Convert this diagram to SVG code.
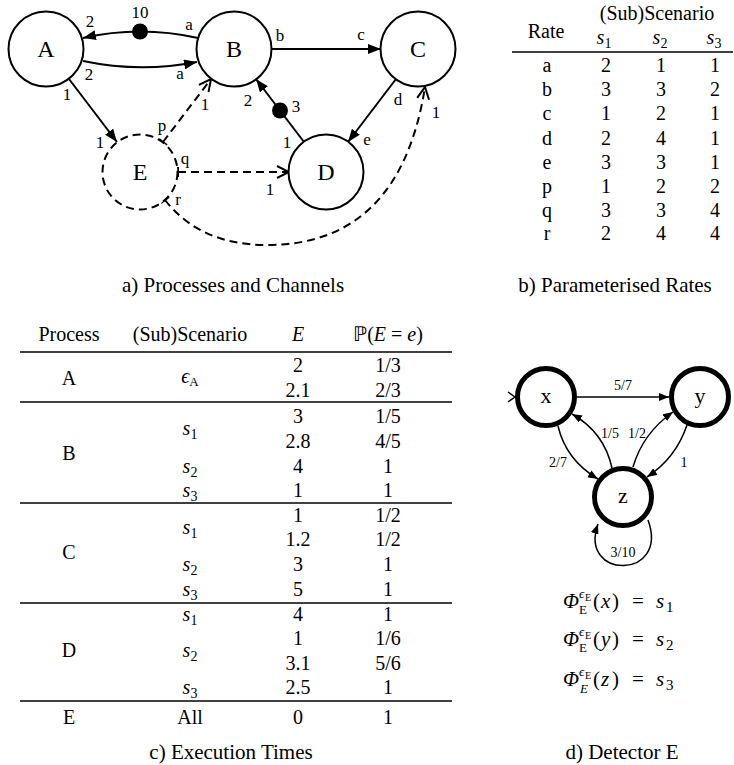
<svg xmlns="http://www.w3.org/2000/svg" width="734" height="765" viewBox="0 0 734 765">
<style>
text{font-family:"Liberation Serif","DejaVu Serif",serif;fill:#000}
.nl{font-size:24px;text-anchor:middle}
.el{font-size:17px;text-anchor:middle}
.t{font-size:20px;text-anchor:middle}
.cap{font-size:21px;text-anchor:middle}
.i{font-style:italic}
.nc{fill:#fff;stroke:#000;stroke-width:2}
.e{fill:none;stroke:#000;stroke-width:2}
.d{stroke-dasharray:8 5}
.rule{stroke:#000;stroke-width:1.3}
.dn{fill:#fff;stroke:#000;stroke-width:5}
.de{fill:none;stroke:#000;stroke-width:1.5}
.dl{font-size:14px;text-anchor:middle}
.dnl{font-size:22px;text-anchor:middle}
.m{font-size:21px}
</style>
<defs>
<marker id="af" viewBox="0 0 13 10" markerWidth="13" markerHeight="10" refX="13" refY="5" orient="auto" markerUnits="userSpaceOnUse"><path d="M0,0 L13,5 L0,10 z"/></marker>
<marker id="ao" viewBox="-2 -2 16 16" markerWidth="16" markerHeight="16" refX="12" refY="6" orient="auto" markerUnits="userSpaceOnUse"><path d="M0,0 L12,6 L0,12" fill="none" stroke="#000" stroke-width="2"/></marker>
<marker id="tee" viewBox="-2 -6 4 12" markerWidth="4" markerHeight="12" refX="0" refY="0" orient="auto" markerUnits="userSpaceOnUse"><path d="M0,-5 L0,5" stroke="#000" stroke-width="2"/></marker>
<marker id="as" viewBox="0 0 10 8" markerWidth="10" markerHeight="8" refX="10" refY="4" orient="auto" markerUnits="userSpaceOnUse"><path d="M0,0 L10,4 L0,8 z"/></marker>
</defs>

<!-- a) Processes and Channels -->
<g id="connectors">
<path class="e" d="M198,38 Q140,25 83,38" marker-end="url(#af)"/>
<circle cx="140" cy="31.5" r="8"/>
<path class="e" d="M83,61 Q140,73 197,62" marker-end="url(#af)"/>
<path class="e" d="M69,79 L117,142" marker-end="url(#af)"/>
<path class="e d" d="M163,142 L211,79" marker-start="url(#tee)" marker-end="url(#ao)"/>
<path class="e" d="M271,49 L381,49" marker-end="url(#af)"/>
<path class="e" d="M396,79 L348,142" marker-end="url(#af)"/>
<path class="e" d="M304,142 L256,79" marker-end="url(#af)"/>
<circle cx="280" cy="110.5" r="8"/>
<path class="e d" d="M178,172 L289,172" marker-start="url(#tee)" marker-end="url(#ao)"/>
<path class="e d" d="M165,200 Q200,245 267,245 Q400,245 425,87" marker-start="url(#tee)" marker-end="url(#ao)"/>
<text class="el" x="140" y="18">10</text>
<text class="el" x="90" y="27">2</text>
<text class="el" x="189" y="30">a</text>
<text class="el" x="89" y="80">2</text>
<text class="el" x="180" y="79">a</text>
<text class="el" x="67" y="100">1</text>
<text class="el" x="100" y="148">1</text>
<text class="el" x="162" y="131">p</text>
<text class="el" x="205" y="110">1</text>
<text class="el" x="280" y="41">b</text>
<text class="el" x="361" y="40">c</text>
<text class="el" x="398" y="105">d</text>
<text class="el" x="367" y="145">e</text>
<text class="el" x="296" y="112">3</text>
<text class="el" x="248" y="106">2</text>
<text class="el" x="287" y="148">1</text>
<text class="el" x="185" y="164">q</text>
<text class="el" x="270" y="195">1</text>
<text class="el" x="178" y="205">r</text>
<text class="el" x="436" y="118">1</text>
</g>
<g id="node-A"><circle class="nc" cx="46" cy="49" r="37.5"/><text class="nl" x="46" y="57">A</text></g>
<g id="node-B"><circle class="nc" cx="234" cy="49" r="37.5"/><text class="nl" x="234" y="57">B</text></g>
<g id="node-C"><circle class="nc" cx="418" cy="49" r="37.5"/><text class="nl" x="418" y="57">C</text></g>
<g id="node-D"><circle class="nc" cx="326" cy="172" r="37.5"/><text class="nl" x="326" y="180">D</text></g>
<g id="node-E"><circle class="nc d" cx="140" cy="172" r="37.5"/><text class="nl" x="140" y="180">E</text></g>
<text class="cap" x="233" y="292">a) Processes and Channels</text>

<!-- b) Parameterised Rates -->
<g id="table-rates">
<text class="t" x="657" y="20">(Sub)Scenario</text>
<text class="t" x="546" y="38">Rate</text>
<text class="t" x="604" y="44"><tspan class="i">s</tspan><tspan font-size="14" dy="4">1</tspan></text>
<text class="t" x="660" y="44"><tspan class="i">s</tspan><tspan font-size="14" dy="4">2</tspan></text>
<text class="t" x="714" y="44"><tspan class="i">s</tspan><tspan font-size="14" dy="4">3</tspan></text>
<line class="rule" x1="512" y1="52" x2="733" y2="52" stroke-width="1.6"/>
<text class="t" x="547" y="72">a</text><text class="t" x="606" y="72">2</text><text class="t" x="661" y="72">1</text><text class="t" x="715" y="72">1</text>
<text class="t" x="547" y="96">b</text><text class="t" x="606" y="96">3</text><text class="t" x="661" y="96">3</text><text class="t" x="715" y="96">2</text>
<text class="t" x="547" y="120">c</text><text class="t" x="606" y="120">1</text><text class="t" x="661" y="120">2</text><text class="t" x="715" y="120">1</text>
<text class="t" x="547" y="144.5">d</text><text class="t" x="606" y="144.5">2</text><text class="t" x="661" y="144.5">4</text><text class="t" x="715" y="144.5">1</text>
<text class="t" x="547" y="168.5">e</text><text class="t" x="606" y="168.5">3</text><text class="t" x="661" y="168.5">3</text><text class="t" x="715" y="168.5">1</text>
<text class="t" x="547" y="193">p</text><text class="t" x="606" y="193">1</text><text class="t" x="661" y="193">2</text><text class="t" x="715" y="193">2</text>
<text class="t" x="547" y="217">q</text><text class="t" x="606" y="217">3</text><text class="t" x="661" y="217">3</text><text class="t" x="715" y="217">4</text>
<text class="t" x="547" y="240">r</text><text class="t" x="606" y="240">2</text><text class="t" x="661" y="240">4</text><text class="t" x="715" y="240">4</text>
</g>
<text class="cap" x="615" y="292">b) Parameterised Rates</text>

<!-- c) Execution Times -->
<g id="table-times">
<text class="t" x="69" y="341">Process</text>
<text class="t" x="190" y="341">(Sub)Scenario</text>
<text class="t i" x="298" y="341">E</text>
<text class="t" x="388" y="341"><tspan font-family="DejaVu Sans, sans-serif">ℙ</tspan>(<tspan class="i">E</tspan> = <tspan class="i">e</tspan>)</text>
<line class="rule" x1="20" y1="352" x2="452" y2="352" stroke-width="1.8"/>
<line class="rule" x1="20" y1="402" x2="452" y2="402"/>
<line class="rule" x1="20" y1="503" x2="452" y2="503"/>
<line class="rule" x1="20" y1="603" x2="452" y2="603"/>
<line class="rule" x1="20" y1="701" x2="452" y2="701"/>
<text class="t" x="69" y="385">A</text>
<text class="t" x="69" y="460">B</text>
<text class="t" x="69" y="559">C</text>
<text class="t" x="69" y="657">D</text>
<text class="t" x="69" y="723.5">E</text>
<text class="t" x="190" y="383"><tspan class="i">ϵ</tspan><tspan font-size="13" dy="3">A</tspan></text>
<text class="t" x="190" y="435"><tspan class="i">s</tspan><tspan font-size="14" dy="4">1</tspan></text>
<text class="t" x="190" y="472.5"><tspan class="i">s</tspan><tspan font-size="14" dy="4">2</tspan></text>
<text class="t" x="190" y="496.5"><tspan class="i">s</tspan><tspan font-size="14" dy="4">3</tspan></text>
<text class="t" x="190" y="534"><tspan class="i">s</tspan><tspan font-size="14" dy="4">1</tspan></text>
<text class="t" x="190" y="571"><tspan class="i">s</tspan><tspan font-size="14" dy="4">2</tspan></text>
<text class="t" x="190" y="595.5"><tspan class="i">s</tspan><tspan font-size="14" dy="4">3</tspan></text>
<text class="t" x="190" y="620.5"><tspan class="i">s</tspan><tspan font-size="14" dy="4">1</tspan></text>
<text class="t" x="190" y="657"><tspan class="i">s</tspan><tspan font-size="14" dy="4">2</tspan></text>
<text class="t" x="190" y="693.5"><tspan class="i">s</tspan><tspan font-size="14" dy="4">3</tspan></text>
<text class="t" x="190" y="723.5">All</text>
<text class="t" x="298" y="371.5">2</text><text class="t" x="388" y="371.5">1/3</text>
<text class="t" x="298" y="397">2.1</text><text class="t" x="388" y="397">2/3</text>
<text class="t" x="298" y="422.5">3</text><text class="t" x="388" y="422.5">1/5</text>
<text class="t" x="298" y="447.5">2.8</text><text class="t" x="388" y="447.5">4/5</text>
<text class="t" x="298" y="472.5">4</text><text class="t" x="388" y="472.5">1</text>
<text class="t" x="298" y="496.5">1</text><text class="t" x="388" y="496.5">1</text>
<text class="t" x="298" y="522">1</text><text class="t" x="388" y="522">1/2</text>
<text class="t" x="298" y="546">1.2</text><text class="t" x="388" y="546">1/2</text>
<text class="t" x="298" y="571">3</text><text class="t" x="388" y="571">1</text>
<text class="t" x="298" y="595.5">5</text><text class="t" x="388" y="595.5">1</text>
<text class="t" x="298" y="620.5">4</text><text class="t" x="388" y="620.5">1</text>
<text class="t" x="298" y="645">1</text><text class="t" x="388" y="645">1/6</text>
<text class="t" x="298" y="669.5">3.1</text><text class="t" x="388" y="669.5">5/6</text>
<text class="t" x="298" y="693.5">2.5</text><text class="t" x="388" y="693.5">1</text>
<text class="t" x="298" y="723.5">0</text><text class="t" x="388" y="723.5">1</text>
</g>
<text class="cap" x="231" y="759">c) Execution Times</text>

<!-- d) Detector E -->
<g id="detector-connectors">
<path class="de" d="M508,392 L515,397 L508,402"/>
<path class="de" d="M577,397 L669,397" marker-end="url(#as)"/>
<path class="de" d="M558,426 Q566,460 598,479" marker-end="url(#as)"/>
<path class="de" d="M612,468 Q604,432 572,414" marker-end="url(#as)"/>
<path class="de" d="M633,467 Q643,433 673,412" marker-end="url(#as)"/>
<path class="de" d="M687,425 Q676,458 647,477" marker-end="url(#as)"/>
<path class="de" d="M648,520 C670,580 578,580 598,524" marker-end="url(#as)"/>
<text class="dl" x="623" y="390">5/7</text>
<text class="dl" x="558" y="467">2/7</text>
<text class="dl" x="610" y="438">1/5</text>
<text class="dl" x="637" y="438">1/2</text>
<text class="dl" x="684" y="467">1</text>
<text class="dl" x="623" y="557">3/10</text>
</g>
<g id="det-x"><circle class="dn" cx="546" cy="397" r="28.5"/><text class="dnl" x="546" y="403">x</text></g>
<g id="det-y"><circle class="dn" cx="700" cy="397" r="28.5"/><text class="dnl" x="700" y="403">y</text></g>
<g id="det-z"><circle class="dn" cx="623" cy="497" r="28.5"/><text class="dnl" x="623" y="503">z</text></g>

<g id="phi-x">
<text class="i m" x="563" y="608">Φ</text>
<text class="i" x="579" y="598" font-size="13">ϵ</text>
<text x="585" y="601" font-size="10">E</text>
<text x="579" y="614" font-size="13">E</text>
<text class="m" x="593" y="608">(</text><text class="i m" x="601" y="608">x</text><text class="m" x="612" y="608">)</text>
<text class="m" x="632" y="608">=</text>
<text class="i m" x="656" y="608">s</text><text x="666" y="612" font-size="15">1</text>
</g>
<g id="phi-y">
<text class="i m" x="563" y="646">Φ</text>
<text class="i" x="579" y="636" font-size="13">ϵ</text>
<text x="585" y="639" font-size="10">E</text>
<text x="579" y="652" font-size="13">E</text>
<text class="m" x="593" y="646">(</text><text class="i m" x="601" y="646">y</text><text class="m" x="612" y="646">)</text>
<text class="m" x="632" y="646">=</text>
<text class="i m" x="656" y="646">s</text><text x="666" y="650" font-size="15">2</text>
</g>
<g id="phi-z">
<text class="i m" x="563" y="686">Φ</text>
<text class="i" x="579" y="676" font-size="13">ϵ</text>
<text x="585" y="679" font-size="10">E</text>
<text class="i" x="580" y="693" font-size="13">E</text>
<text class="m" x="593" y="686">(</text><text class="i m" x="601" y="686">z</text><text class="m" x="612" y="686">)</text>
<text class="m" x="632" y="686">=</text>
<text class="i m" x="656" y="686">s</text><text x="666" y="690" font-size="15">3</text>
</g>
<text class="cap" x="622" y="759">d) Detector E</text>
</svg>
